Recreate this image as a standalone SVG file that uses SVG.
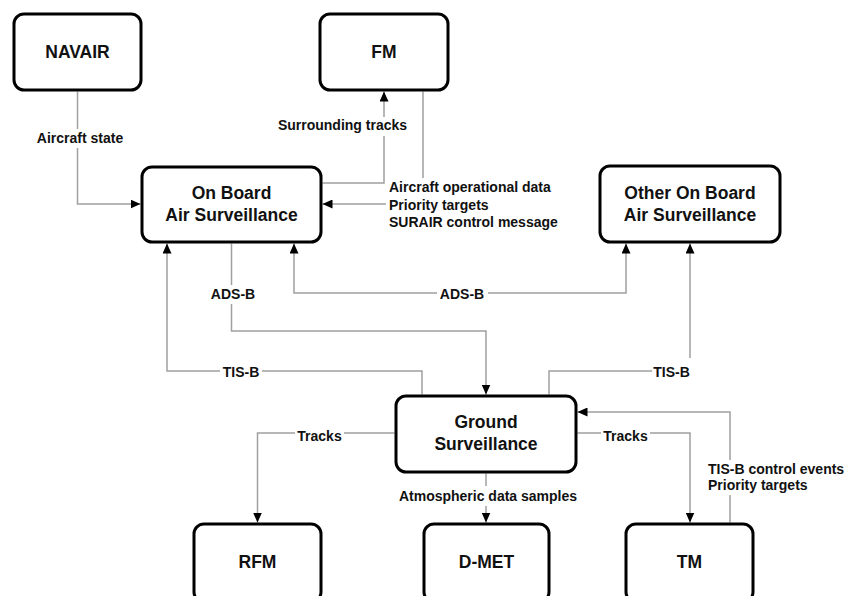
<svg xmlns="http://www.w3.org/2000/svg" width="845" height="596" viewBox="0 0 845 596">
  <style>
    .box { fill: #ffffff; stroke: #000000; stroke-width: 3; }
    .node-text { font-family: "Liberation Sans", Arial, sans-serif; font-weight: bold; font-size: 17.5px; fill: #111111; text-anchor: middle; }
    .wire { fill: none; stroke: #a0a0a0; stroke-width: 1.5; }
    .arrow { marker-end: url(#head); }
    .both { marker-start: url(#head); marker-end: url(#head); }
    .tag-bg { fill: #ffffff; }
    .tag { font-family: "Liberation Sans", Arial, sans-serif; font-weight: bold; font-size: 14px; fill: #111111; }
    .mid { text-anchor: middle; }
  </style>
  <defs>
    <marker id="head" markerUnits="userSpaceOnUse" markerWidth="10" markerHeight="9" refX="10" refY="4.5" orient="auto-start-reverse">
      <path d="M0,0 L10,4.5 L0,9 Z" fill="#000000"/>
    </marker>
  </defs>
  <rect width="845" height="596" fill="#ffffff"/>

  <!-- connectors -->
  <g id="connectors">
    <path class="wire arrow" d="M77.5 91.5 V204 H140.5"/>
    <path class="wire arrow" d="M322.5 183 H384 V91.5"/>
    <path class="wire arrow" d="M423 91.5 V204 H322.5"/>
    <path class="wire arrow" d="M231.5 243.5 V331 H486 V394.5"/>
    <path class="wire both" d="M294 243.5 V293 H626 V243.5"/>
    <path class="wire arrow" d="M422 394.5 V371 H167 V243.5"/>
    <path class="wire arrow" d="M549 394.5 V371 H690 V243.5"/>
    <path class="wire arrow" d="M394.5 433 H257.5 V522.5"/>
    <path class="wire arrow" d="M577.5 433 H690 V522.5"/>
    <path class="wire arrow" d="M730 522.5 V412 H577.5"/>
    <path class="wire arrow" d="M486 473.5 V522.5"/>

    <!-- connector labels -->
    <rect class="tag-bg" x="34" y="129" width="92" height="19"/>
    <text class="tag mid" x="80" y="143">Aircraft state</text>

    <rect class="tag-bg" x="276" y="117" width="134" height="19"/>
    <text class="tag mid" x="342.5" y="130">Surrounding tracks</text>

    <rect class="tag-bg" x="386" y="178" width="172" height="54"/>
    <text class="tag" x="389" y="192">Aircraft operational data</text>
    <text class="tag" x="389" y="209.5">Priority targets</text>
    <text class="tag" x="389" y="227">SURAIR control message</text>

    <rect class="tag-bg" x="208" y="285" width="50" height="19"/>
    <text class="tag mid" x="233" y="299">ADS-B</text>

    <rect class="tag-bg" x="437" y="285" width="51" height="18"/>
    <text class="tag mid" x="462" y="299">ADS-B</text>

    <rect class="tag-bg" x="220" y="362" width="42" height="19"/>
    <text class="tag mid" x="241" y="377">TIS-B</text>

    <rect class="tag-bg" x="652" y="358" width="42" height="23"/>
    <text class="tag mid" x="671.5" y="377">TIS-B</text>

    <rect class="tag-bg" x="295" y="426" width="49" height="19"/>
    <text class="tag mid" x="319.5" y="441">Tracks</text>

    <rect class="tag-bg" x="601" y="426" width="49" height="19"/>
    <text class="tag mid" x="625.5" y="441">Tracks</text>

    <rect class="tag-bg" x="398" y="486" width="180" height="20"/>
    <text class="tag mid" x="488" y="501">Atmospheric data samples</text>

    <rect class="tag-bg" x="705" y="460" width="140" height="35"/>
    <text class="tag" x="708" y="474">TIS-B control events</text>
    <text class="tag" x="708" y="490">Priority targets</text>
  </g>

  <!-- nodes -->
  <g id="navair">
    <rect class="box" x="14" y="14" width="127" height="76" rx="10"/>
    <text class="node-text" x="77.5" y="58">NAVAIR</text>
  </g>
  <g id="fm">
    <rect class="box" x="320" y="14" width="128" height="76" rx="10"/>
    <text class="node-text" x="384" y="58">FM</text>
  </g>
  <g id="onboard">
    <rect class="box" x="142" y="167" width="179" height="75" rx="10"/>
    <text class="node-text" x="231.5" y="199">On Board</text>
    <text class="node-text" x="231.5" y="221">Air Surveillance</text>
  </g>
  <g id="other-onboard">
    <rect class="box" x="600" y="166" width="180" height="76" rx="10"/>
    <text class="node-text" x="690" y="199">Other On Board</text>
    <text class="node-text" x="690" y="221">Air Surveillance</text>
  </g>
  <g id="ground">
    <rect class="box" x="396" y="396" width="180" height="76" rx="10"/>
    <text class="node-text" x="486" y="428">Ground</text>
    <text class="node-text" x="486" y="450">Surveillance</text>
  </g>
  <g id="rfm">
    <rect class="box" x="194" y="524" width="127" height="78" rx="10"/>
    <text class="node-text" x="257.5" y="568">RFM</text>
  </g>
  <g id="dmet">
    <rect class="box" x="424" y="524" width="125" height="78" rx="10"/>
    <text class="node-text" x="486.5" y="568">D-MET</text>
  </g>
  <g id="tm">
    <rect class="box" x="626" y="524" width="127" height="78" rx="10"/>
    <text class="node-text" x="689.5" y="568">TM</text>
  </g>
</svg>
